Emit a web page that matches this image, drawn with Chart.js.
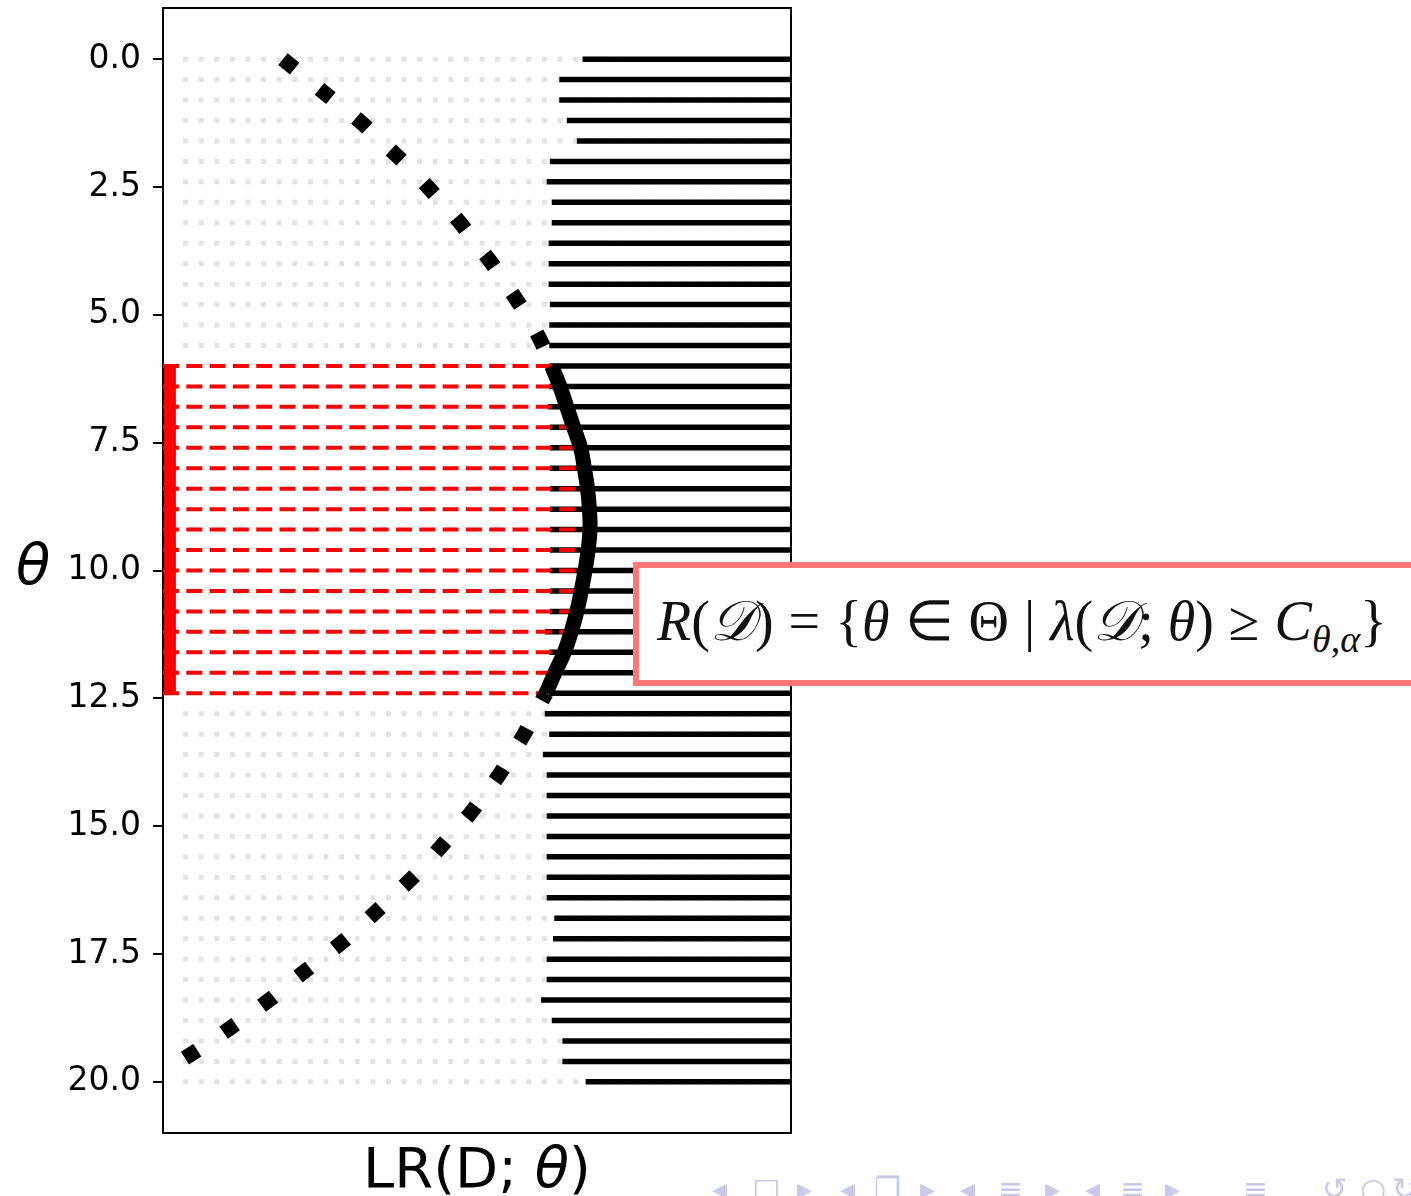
<!DOCTYPE html>
<html>
<head>
<meta charset="utf-8">
<script src="https://cdn.jsdelivr.net/npm/chart.js@4.4.0/dist/chart.umd.min.js"></script>
<style>
  html, body { margin: 0; padding: 0; background: #fff; overflow: hidden; }
  #wrap { position: relative; width: 1411px; height: 1196px; }
  #plot { position: absolute; left: 0; top: 0; }
  .lbl { position: absolute; font-family: 'DejaVu Sans'; font-size: 56px; line-height: 1; color: #000; white-space: nowrap; }
  #formula { position: absolute; left: 633px; top: 562px; width: 766px; height: 112px;
             border: 6px solid #ff7777; background: #fff; display: flex; align-items: center;
             padding-left: 18px; box-sizing: content-box;
             font-family: 'Liberation Serif', serif; font-size: 56px; white-space: nowrap; color: #111; }
  #formula .s { display: inline-block; width: 15px; }
  #formula sub { font-size: 38px; vertical-align: -12px; }
  .nav { position: absolute; top: 1174px; font-family: 'DejaVu Sans'; font-size: 30px; line-height: 1; color: #c8c8ea; }
</style>
</head>
<body>
<div id="wrap">
  <canvas id="plot" width="1411" height="1196"></canvas>
  <div class="lbl" style="left: 16px; top: 537px;"><i>θ</i></div>
  <div class="lbl" style="left: 477px; top: 1140px; transform: translateX(-50%);">LR(D; <i>θ</i>)</div>
  <div id="formula"><span><i>R</i>(<i>𝒟</i>)<span class="s"></span>=<span class="s"></span>{<i>θ</i><span class="s"></span>∈<span class="s"></span>Θ<span class="s"></span>|<span class="s"></span><i>λ</i>(<i>𝒟</i>; <i>θ</i>)<span class="s"></span>≥<span class="s"></span><i>C</i><sub><i>θ</i>,<i>α</i></sub>}</span></div>
  <span class="nav" style="left: 712px">◂</span>
  <span class="nav" style="left: 752px">□</span>
  <span class="nav" style="left: 797px">▸</span>
  <span class="nav" style="left: 840px">◂</span>
  <span class="nav" style="left: 874px">❐</span>
  <span class="nav" style="left: 920px">▸</span>
  <span class="nav" style="left: 960px">◂</span>
  <span class="nav" style="left: 998px">≡</span>
  <span class="nav" style="left: 1045px">▸</span>
  <span class="nav" style="left: 1085px">◂</span>
  <span class="nav" style="left: 1120px">≡</span>
  <span class="nav" style="left: 1165px">▸</span>
  <span class="nav" style="left: 1243px">≡</span>
  <span class="nav" style="left: 1322px">↺</span>
  <span class="nav" style="left: 1360px">○</span>
  <span class="nav" style="left: 1392px">↻</span>
</div>
<script>
// theta grid (one horizontal line per value)
const thetas = [0, 0.4, 0.8, 1.2, 1.6, 2, 2.4, 2.8, 3.2, 3.6, 4, 4.4, 4.8, 5.2, 5.6,
                6, 6.4, 6.8, 7.2, 7.6, 8, 8.4, 8.8, 9.2, 9.6, 10, 10.4, 10.8, 11.2, 11.6,
                12, 12.4, 12.8, 13.2, 13.6, 14, 14.4, 14.8, 15.2, 15.6, 16, 16.4, 16.8,
                17.2, 17.6, 18, 18.4, 18.8, 19.2, 19.6, 20]

// critical value C(theta): left end of each black line
const criticals = [66.8, 63.1, 63.1, 64.3, 65.9, 61.6, 61.1, 61.9, 61.9, 61.4, 61.4, 61.4, 61.6, 61.5, 61.5,
                   61.5, 61.5, 61.3, 61.6, 61.6, 61.6, 61.6, 61.6, 61.6, 61.6, 61.6, 61.6, 61.6, 60.8, 61.5,
                   61.5, 61.5, 60.8, 61.5, 60.5, 61.1, 61.1, 61.1, 61.1, 61.1, 61.1, 61.1, 62.3,
                   62.1, 61.1, 61.1, 60.2, 61.9, 63.6, 63.6, 67.3]

// observed LR(D; theta), theta = 0 .. 19.6
const lrValues = [19.1, 23.1, 27.1, 31.2, 34.7, 38.2, 41.4, 44.4, 47.3, 49.8, 52.4, 54.6, 56.8, 58.8, 60.5,
                  61.9, 63.2, 64.3, 65.4, 66.5, 67.1, 67.6, 67.9, 68.0, 67.7, 67.2, 66.6, 65.9, 65.0, 63.9,
                  62.4, 61.0, 59.2, 57.5, 55.5, 53.5, 51.1, 48.6, 45.7, 42.8, 39.8, 36.3, 32.8,
                  29.2, 25.1, 20.9, 16.9, 12.4, 7.7, 2.7]

// confidence region bounds
const regionLow = 6
const regionHigh = 12.4

const yTicks = [0, 2.5, 5, 7.5, 10, 12.5, 15, 17.5, 20]

const xMin = 0, xMax = 100
const dotStart = 3.2   // where the grey dotted rows begin
const barX = 1.1       // red bar marking the region

const inRegion = t => t >= regionLow && t <= regionHigh

const lineDefaults = { showLine: true, pointRadius: 0, tension: 0, borderCapStyle: 'butt', fill: false }

const datasets = []

// grey dotted rows outside the region
thetas.forEach((t) => {
    if (inRegion(t)) return
    datasets.push({ ...lineDefaults, order: 5,
        data: [{ x: dotStart, y: t }, { x: xMax, y: t }],
        borderColor: '#e3e3e3', borderWidth: 5, borderDash: [5, 10.6] })
})

// black lines from C(theta) to the right
thetas.forEach((t, i) => {
    datasets.push({ ...lineDefaults, order: 4,
        data: [{ x: criticals[i], y: t }, { x: xMax, y: t }],
        borderColor: '#000', borderWidth: 5.5 })
})

// red dashed rows inside the region
thetas.forEach((t, i) => {
    if (!inRegion(t)) return
    datasets.push({ ...lineDefaults, order: 3,
        data: [{ x: xMin, y: t }, { x: lrValues[i], y: t }],
        borderColor: '#ff0000', borderWidth: 4, borderDash: [16, 7.3] })
})

// red bar
datasets.push({ ...lineDefaults, order: 2,
    data: [{ x: barX, y: regionLow }, { x: barX, y: regionHigh }],
    borderColor: '#ff0000', borderWidth: 12 })

// LR curve: dotted above and below the region, solid inside it
const curve = lrValues.map((v, i) => ({ x: v, y: thetas[i] }))
const curveStyle = { ...lineDefaults, tension: 0.4, borderColor: '#000', borderWidth: 15 }

datasets.push({ ...curveStyle, order: 1, borderDash: [15, 32],
    data: curve.filter(p => p.y <= regionLow) })
datasets.push({ ...curveStyle, order: 1, borderDash: [15, 31.5], borderDashOffset: 6.5,
    data: curve.filter(p => p.y >= regionHigh) })
datasets.push({ ...curveStyle, order: 0,
    data: curve.filter(p => inRegion(p.y)) })

const spine = { display: true, color: '#000', width: 2 }

new Chart(document.getElementById('plot'), {
    type: 'scatter',
    data: { datasets: datasets },
    options: {
        responsive: false,
        animation: false,
        devicePixelRatio: 1,
        layout: { padding: { left: 0, right: 620, top: 8, bottom: 0 } },
        plugins: { legend: { display: false }, tooltip: { enabled: false } },
        events: [],
        scales: {
            x: {
                type: 'linear', min: xMin, max: xMax,
                ticks: { display: false },
                grid: { display: false },
                border: spine,
                afterFit: (s) => { s.height = 63; s.paddingLeft = 0; s.paddingRight = 0 }
            },
            xTop: {
                type: 'linear', position: 'top', min: xMin, max: xMax,
                ticks: { display: false },
                grid: { display: false },
                border: spine,
                afterFit: (s) => { s.height = 0; s.paddingLeft = 0; s.paddingRight = 0 }
            },
            y: {
                type: 'linear', reverse: true, min: -1, max: 21,
                afterBuildTicks: (s) => { s.ticks = yTicks.map(v => ({ value: v })) },
                ticks: {
                    color: '#000', padding: 12,
                    font: { family: 'DejaVu Sans', size: 33 },
                    callback: (v) => Number(v).toFixed(1)
                },
                grid: { drawOnChartArea: false, drawTicks: true, tickLength: 10, color: '#000', lineWidth: 2 },
                border: spine,
                afterFit: (s) => { s.width = 163; s.paddingTop = 0; s.paddingBottom = 0 }
            },
            yRight: {
                type: 'linear', position: 'right', reverse: true, min: -1, max: 21,
                ticks: { display: false },
                grid: { display: false },
                border: spine,
                afterFit: (s) => { s.width = 0; s.paddingTop = 0; s.paddingBottom = 0 }
            }
        }
    }
})
</script>
</body>
</html>
